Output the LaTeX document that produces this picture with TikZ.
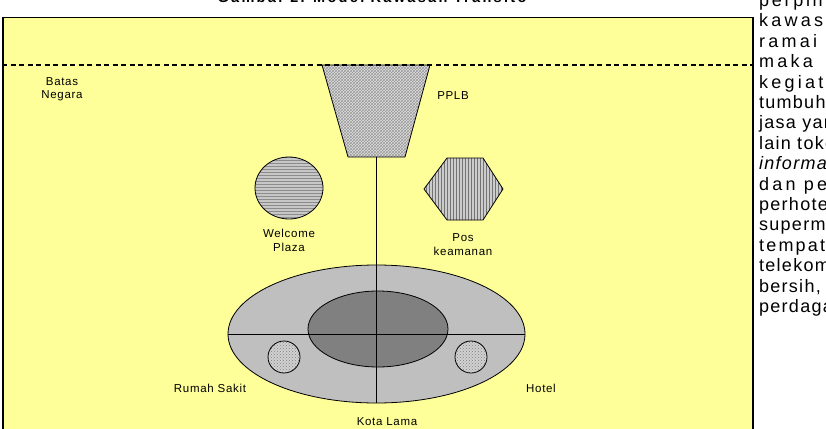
\documentclass[tikz,border=0pt]{standalone}
\usepackage{fontspec}
\setmainfont{Liberation Sans}
\newfontfamily\labelfont[LetterSpace=6]{Liberation Sans}
\newfontfamily\parafont{Liberation Sans}
\newfontfamily\judulfont[LetterSpace=16]{Liberation Sans}
\usetikzlibrary{shapes.geometric, patterns, positioning}
\definecolor{kuning}{HTML}{FFFF99}

\begin{document}
\begin{tikzpicture}[
    x=1pt, y=-1pt,
    every node/.style={font=\labelfont\fontsize{11.5}{13.5}\selectfont},
    lbl/.style={align=center, inner sep=0pt},
    zone/.style={ellipse, draw, line width=0.8pt, inner sep=0pt},
    fasilitas/.style={draw, line width=0.8pt},
    garis/.style={line width=0.8pt},
    batas/.style={line width=2pt, dash pattern=on 5pt off 3.5pt}
]
\useasboundingbox (0,0) rectangle (826,428);
\clip (0,0) rectangle (826,428);

% --- bidang gambar ---
\node (bidang) [rectangle, draw, line width=1.5pt, fill=kuning, anchor=north west,
    minimum width=750pt, minimum height=430pt, inner sep=0pt] at (2,17) {};

% --- PPLB ---
\draw [fasilitas, preaction={fill=black!12}, pattern=crosshatch, pattern color=black!40]
    (322,65) -- (430,65) -- (405,157) -- (348,157) -- cycle;
\coordinate (pplb) at (376.5,157);

% --- batas negara ---
\coordinate (batasW) at (2,65);
\coordinate (batasE) at (752,65);
\draw [batas] (batasW) -- (batasE);

% --- fasilitas ---
\node (welcome) [zone, minimum width=68pt, minimum height=62pt,
    preaction={fill=black!22}, pattern=horizontal lines, pattern color=black!45] at (289,188) {};

\draw [fasilitas, preaction={fill=black!20}, pattern=vertical lines, pattern color=black!55]
    (424,189) -- (447,158) -- (483,158) -- (503,189) -- (483,220) -- (447,220) -- cycle;
\coordinate (pos) at (463,189);

% --- kota lama ---
\node (kota) [zone, fill=black!25, minimum width=297pt, minimum height=138pt] at (376.5,334) {};
\node (pusat) [zone, fill=black!50, minimum width=140pt, minimum height=76pt] at (378,329) {};
\node (rs) [circle, draw, line width=0.8pt, minimum size=32pt, inner sep=0pt,
    preaction={fill=black!18}, pattern=crosshatch dots, pattern color=black!50] at (284,357) {};
\node (hotel) [circle, draw, line width=0.8pt, minimum size=32pt, inner sep=0pt,
    preaction={fill=black!18}, pattern=crosshatch dots, pattern color=black!50] at (471,357) {};

\draw [garis] (pplb) -- (kota.south);
\draw [garis] (kota.west) -- (kota.east);

% --- label ---
\node (batasLbl) [lbl] at (62,89) {Batas\\Negara};
\node (pplbLbl) [lbl] at (453,96) {PPLB};
\node (welcomeLbl) [lbl, below=10pt of welcome] {Welcome\\Plaza};
\node (posLbl) [lbl] at (463,244.5) {Pos\\keamanan};
\node (rsLbl) [lbl] at (210,388) {Rumah Sakit};
\node (hotelLbl) [lbl] at (541,388) {Hotel};
\node (kotaLbl) [lbl] at (387,422) {Kota Lama};

% --- teks halaman ---
\node (judul) [anchor=base, inner sep=0pt, font=\judulfont\bfseries\fontsize{14.5}{16}\selectfont]
    at (372,3) {Gambar 2. Model Kawasan Transito};
\foreach \baris/\sp [count=\i from 0] in {perpindahan/15, kawasan/18, ramai dan/18, maka/18,
    kegiatan/18, tumbuhnya/7, jasa yang/7, lain toko/7, {\itshape informal}/7, dan pe/18,
    perhotelan/7, supermarket/7, tempat/12, telekomunikasi/7, {bersih,}/7, perdagangan/7}
    \node (baris\i) [anchor=base west, inner sep=0pt,
        font=\parafont\fontsize{18}{20}\selectfont\addfontfeature{LetterSpace=\sp}]
        at (759,{6.5+20.4*\i}) {\baris};

\end{tikzpicture}
\end{document}
